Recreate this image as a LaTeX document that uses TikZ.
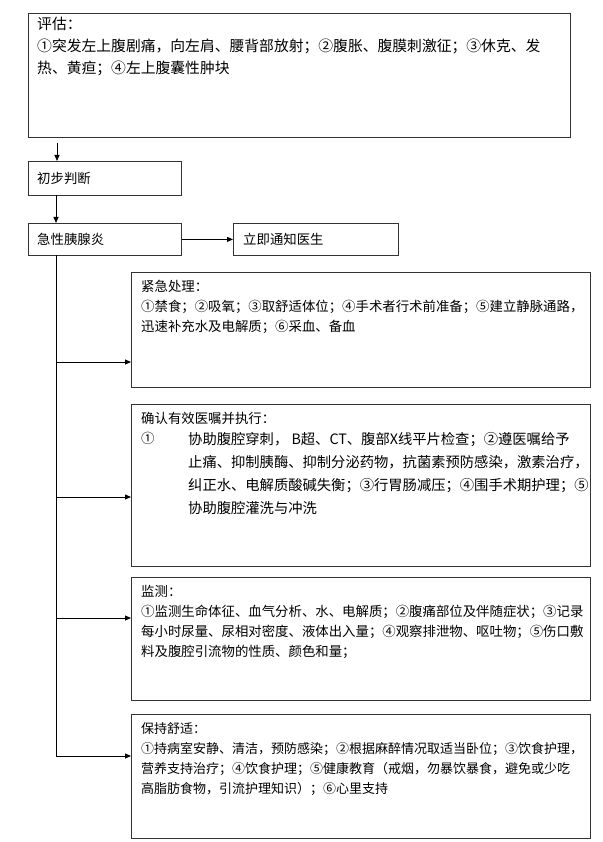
\documentclass[tikz,border=0pt]{standalone}
\usepackage{fontspec}
\setmainfont{Noto Sans CJK SC}
\usetikzlibrary{arrows.meta}
\tikzset{
  box/.style={draw=black!80,line width=0.8pt,anchor=north west,inner sep=0pt},
  txt/.style={anchor=north west,inner sep=0pt,align=left,font=\fontsize{13.4}{20}\selectfont},
  conn/.style={line width=0.8pt,-{Triangle[length=6pt,width=5pt]}},
  plain/.style={line width=0.8pt}
}
\begin{document}
\begin{tikzpicture}[x=1pt,y=-1pt]
\useasboundingbox (0,0) rectangle (602,842);
\node[box,minimum width=542pt,minimum height=124pt] (eval) at (28,13) {};
\node[txt,font=\fontsize{14.8}{22}\selectfont] (evalt) at (37,17) {评估：\\①突发左上腹剧痛，向左肩、腰背部放射；②腹胀、腹膜刺激征；③休克、发\\热、黄疸；④左上腹囊性肿块};
\node[box,minimum width=153pt,minimum height=34pt] (judge) at (28,161) {};
\node[txt,anchor=west] at (37,178) {初步判断};
\node[box,minimum width=153pt,minimum height=32pt] (acute) at (28,223) {};
\node[txt,anchor=west] at (37,239) {急性胰腺炎};
\node[box,minimum width=165pt,minimum height=32pt] (notify) at (233,223) {};
\node[txt,anchor=west] at (243,239) {立即通知医生};
\node[box,minimum width=459pt,minimum height=115pt] (b1) at (131,272) {};
\node[txt] at (141,280) {紧急处理：\\①禁食；②吸氧；③取舒适体位；④手术者行术前准备；⑤建立静脉通路，\\迅速补充水及电解质；⑥采血、备血};
\node[box,minimum width=459pt,minimum height=162pt] (b2) at (131,404) {};
\node[txt] at (141,412) {确认有效医嘱并执行：};
\node[txt] at (141,432) {①};
\node[txt,font=\fontsize{14.3}{23}\selectfont] at (188,432) {协助腹腔穿刺， B超、CT、腹部X线平片检查；②遵医嘱给予\\止痛、抑制胰酶、抑制分泌药物，抗菌素预防感染，激素治疗，\\纠正水、电解质酸碱失衡；③行胃肠减压；④围手术期护理；⑤\\协助腹腔灌洗与冲洗};
\node[box,minimum width=459pt,minimum height=123pt] (b3) at (131,577) {};
\node[txt] at (141,585) {监测：\\①监测生命体征、血气分析、水、电解质；②腹痛部位及伴随症状；③记录\\每小时尿量、尿相对密度、液体出入量；④观察排泄物、呕吐物；⑤伤口敷\\料及腹腔引流物的性质、颜色和量；};
\node[box,minimum width=459pt,minimum height=124pt] (b4) at (131,714) {};
\node[txt,font=\fontsize{13}{20}\selectfont] at (141,722) {保持舒适：\\①持病室安静、清洁，预防感染；②根据麻醉情况取适当卧位；③饮食护理，\\营养支持治疗；④饮食护理；⑤健康教育（戒烟，勿暴饮暴食，避免或少吃\\高脂肪食物，引流护理知识）；⑥心里支持};
\coordinate (s0) at (57,143);
\draw[conn] (s0) -- (judge.north west -| s0);
\coordinate (s1) at (56,195);
\draw[conn] (s1) -- (acute.north west -| s1);
\draw[conn] (acute.east) -- (notify.west);
\coordinate (top) at (56,255);
\coordinate (j1) at (56,362);
\coordinate (j2) at (56,497);
\coordinate (j3) at (56,618);
\coordinate (j4) at (56,756);
\draw[plain] (top) -- (j4);
\draw[conn] (j1) -- (j1 -| b1.west);
\draw[conn] (j2) -- (j2 -| b2.west);
\draw[conn] (j3) -- (j3 -| b3.west);
\draw[conn] (j4) -- (j4 -| b4.west);
\end{tikzpicture}
\end{document}
